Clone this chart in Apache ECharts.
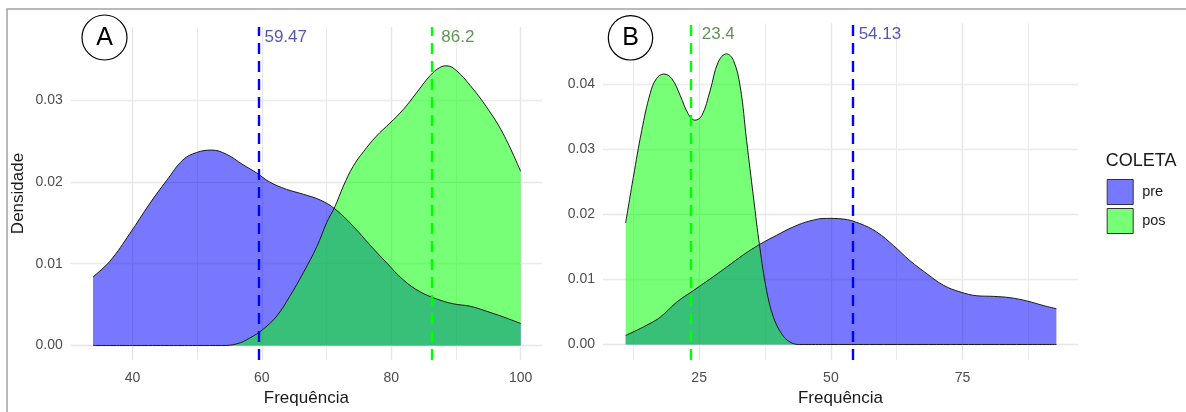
<!DOCTYPE html>
<html>
<head>
<meta charset="utf-8">
<script src="https://cdn.jsdelivr.net/npm/echarts@6/dist/echarts.min.js"></script>
<style>
  html, body { margin: 0; padding: 0; background: #ffffff; }
  #chart { width: 1186px; height: 412px; }
</style>
</head>
<body>
<div id="chart"></div>
<script>
// ---- Panel A: density of Frequência by COLETA ----
const preA_x = [33.9, 36.5, 39.6, 42.7, 45.3, 47.8, 49.9, 52.2, 54.5, 57.1, 59.2, 61.2, 63.8, 66.4, 69.0, 71.3, 74.1, 76.7, 79.3, 81.9, 84.4, 87.0, 89.6, 92.2, 94.7, 97.3, 100];
const preA_y = [0.0084, 0.0103, 0.0137, 0.0174, 0.0202, 0.0227, 0.0236, 0.0239, 0.0234, 0.0221, 0.0211, 0.0200, 0.0191, 0.0185, 0.0178, 0.0167, 0.0146, 0.0123, 0.0101, 0.0080, 0.0066, 0.0057, 0.0051, 0.0048, 0.0042, 0.0035, 0.0027];
const posA_x = [33.9, 40, 45, 50, 53.8, 56.1, 58.1, 60.2, 62.3, 64.3, 66.4, 68.5, 70.0, 71.3, 72.6, 74.1, 75.7, 77.7, 79.8, 81.9, 83.9, 86.0, 87.5, 88.6, 90.1, 92.2, 94.7, 97.3, 100];
const posA_y = [0, 0, 0, 0, 0, 0.0002, 0.0009, 0.0020, 0.0036, 0.0060, 0.0089, 0.0121, 0.0150, 0.0170, 0.0195, 0.0219, 0.0237, 0.0256, 0.0272, 0.0289, 0.0309, 0.0330, 0.0340, 0.0342, 0.0336, 0.0318, 0.0292, 0.0259, 0.0213];
const meanA_pre = 59.47;
const meanA_pos = 86.2;

// ---- Panel B ----
const preB_x = [11.05, 14.4, 17.6, 20.7, 23.9, 27.1, 30.2, 33.4, 36.5, 39.7, 42.9, 46.0, 49.2, 52.3, 55.5, 58.7, 61.9, 65.0, 68.2, 71.4, 74.5, 77.7, 80.9, 84.0, 87.2, 90.3, 92.8];
const preB_y = [0.0014, 0.0027, 0.0042, 0.0065, 0.0083, 0.0101, 0.0119, 0.0138, 0.0154, 0.0168, 0.0181, 0.0190, 0.0194, 0.0193, 0.0186, 0.0173, 0.0152, 0.0129, 0.0109, 0.0091, 0.0081, 0.0075, 0.0074, 0.0072, 0.0067, 0.0060, 0.0055];
const posB_x = [11.05, 12.5, 14.1, 15.7, 16.9, 18.3, 19.8, 21.4, 22.9, 24.2, 25.5, 27.1, 28.6, 30.2, 31.5, 32.8, 34.0, 35.3, 36.5, 37.8, 39.1, 40.7, 42.2, 44.1, 50, 60, 70, 80, 92.8];
const posB_y = [0.0187, 0.0257, 0.0329, 0.0386, 0.0409, 0.0416, 0.0409, 0.0383, 0.0355, 0.0345, 0.0352, 0.0391, 0.0434, 0.0447, 0.0437, 0.0396, 0.0314, 0.0227, 0.0150, 0.0083, 0.0042, 0.0016, 0.0004, 0, 0, 0, 0, 0, 0];
const meanB_pre = 54.13;
const meanB_pos = 23.4;

// ---- Axis ticks (major carry labels, minor are grid only) ----
const xTicksA = [40, 60, 80, 100];
const xMinorA = [50, 70, 90];
const yTicksA = [0, 0.01, 0.02, 0.03];
const yMinorA = [0.005, 0.015, 0.025, 0.035];
const xTicksB = [25, 50, 75];
const xMinorB = [12.5, 37.5, 62.5, 87.5];
const yTicksB = [0, 0.01, 0.02, 0.03, 0.04];
const yMinorB = [0.005, 0.015, 0.025, 0.035, 0.045];

// label heights for the mean annotations
const meanLabelY_A = 0.0377;
const meanLabelY_B = 0.0477;

const FONT = '"Liberation Sans", Arial, sans-serif';
const PRE_FILL = 'rgba(0, 0, 255, 0.53)';
const POS_FILL = 'rgba(0, 255, 0, 0.53)';

const pairs = (xs, ys) => xs.map((x, i) => [x, ys[i]]);

function gridSeries(idx, xMaj, xMin, yMaj, yMin) {
  const line = (w, c) => ({ color: c, width: w, type: 'solid' });
  const data = [];
  xMaj.forEach(v => data.push({ xAxis: v, lineStyle: line(1.4, '#E6E6E6') }));
  xMin.forEach(v => data.push({ xAxis: v, lineStyle: line(1, '#EBEBEB') }));
  yMaj.forEach(v => data.push({ yAxis: v, lineStyle: line(1.4, '#E6E6E6') }));
  yMin.forEach(v => data.push({ yAxis: v, lineStyle: line(1, '#EBEBEB') }));
  return {
    type: 'line', name: 'grid' + idx, xAxisIndex: idx, yAxisIndex: idx,
    data: [], silent: true, z: 0,
    markLine: { silent: true, symbol: ['none', 'none'], z: 0, label: { show: false }, data: data, animation: false }
  };
}

function densitySeries(idx, name, xs, ys, fill) {
  return {
    type: 'line', name: name, xAxisIndex: idx, yAxisIndex: idx,
    data: pairs(xs, ys), smooth: 0.4, showSymbol: false, symbol: 'none',
    lineStyle: { color: '#1a1a1a', width: 1 },
    itemStyle: { color: fill },
    areaStyle: { color: fill, opacity: 1, origin: 'auto' },
    z: 2
  };
}

function meanLine(idx, value, color) {
  return {
    type: 'line', name: 'm' + idx + value, xAxisIndex: idx, yAxisIndex: idx,
    data: [], silent: true, z: 5,
    markLine: {
      silent: true, symbol: ['none', 'none'], z: 5, label: { show: false },
      lineStyle: { color: color, width: 2.4, type: [11, 7] },
      data: [{ xAxis: value }], animation: false
    }
  };
}

function meanLabel(idx, value, y, color, dist) {
  return {
    type: 'scatter', name: 'l' + idx + value, xAxisIndex: idx, yAxisIndex: idx,
    data: [[value, y]], symbolSize: 0.001, silent: true, z: 6,
    itemStyle: { color: 'rgba(0,0,0,0)' },
    label: {
      show: true, position: 'right', distance: dist,
      formatter: String(value), color: color, fontSize: 17, fontFamily: FONT
    }
  };
}

function xAxisCfg(idx, min, max, ticks) {
  return {
    type: 'value', gridIndex: idx, min: min, max: max,
    axisLine: { show: false, onZero: false }, axisTick: { show: false },
    splitLine: { show: false },
    axisLabel: { customValues: ticks, formatter: v => String(v), color: '#4D4D4D', fontSize: 14, fontFamily: FONT, margin: 11 },
    name: 'Frequência', nameLocation: 'middle', nameGap: 28,
    nameTextStyle: { color: '#1a1a1a', fontSize: 17, fontFamily: FONT }
  };
}

function yAxisCfg(idx, min, max, ticks, name) {
  return {
    type: 'value', gridIndex: idx, min: min, max: max,
    axisLine: { show: false }, axisTick: { show: false },
    splitLine: { show: false },
    axisLabel: { customValues: ticks, formatter: v => v.toFixed(2), color: '#4D4D4D', fontSize: 14, fontFamily: FONT, margin: 8 },
    name: name, nameLocation: 'middle', nameGap: 44, nameRotate: 90,
    nameTextStyle: { color: '#1a1a1a', fontSize: 17, fontFamily: FONT }
  };
}

const chart = echarts.init(document.getElementById('chart'), null, { renderer: 'canvas' });

chart.setOption({
  animation: false,
  backgroundColor: '#ffffff',
  grid: [
    { left: 70.7, top: 27, width: 471.3, height: 333 },
    { left: 603, top: 23.3, width: 475, height: 336.7 }
  ],
  xAxis: [
    xAxisCfg(0, 30.45, 103.3, xTicksA),
    xAxisCfg(1, 6.75, 96.9, xTicksB)
  ],
  yAxis: [
    yAxisCfg(0, -0.00177, 0.03895, yTicksA, 'Densidade'),
    yAxisCfg(1, -0.00238, 0.0494, yTicksB, '')
  ],
  legend: {
    left: 1106.7, top: 179, orient: 'vertical', padding: 0,
    itemWidth: 26, itemHeight: 25, itemGap: 3, icon: 'rect',
    textStyle: { color: '#1a1a1a', fontSize: 14.5, fontFamily: FONT, padding: [0, 0, 0, 4] },
    data: [
      { name: 'pre', itemStyle: { color: '#7777FF', borderColor: '#333333', borderWidth: 1 } },
      { name: 'pos', itemStyle: { color: '#77FF77', borderColor: '#333333', borderWidth: 1 } }
    ]
  },
  graphic: [
    { type: 'rect', shape: { x: 7, y: 9, width: 1400, height: 600 }, style: { fill: 'none', stroke: '#A3A3A3', lineWidth: 1.5 }, silent: true },
    { type: 'circle', shape: { cx: 104.5, cy: 37.5, r: 22.5 }, style: { fill: '#ffffff', stroke: '#000000', lineWidth: 1.2 }, z: 10 },
    { type: 'text', x: 104.5, y: 38, style: { text: 'A', fill: '#000000', font: '25px ' + FONT, align: 'center', verticalAlign: 'middle' }, z: 11 },
    { type: 'circle', shape: { cx: 630.5, cy: 37.8, r: 22.2 }, style: { fill: '#ffffff', stroke: '#000000', lineWidth: 1.2 }, z: 10 },
    { type: 'text', x: 630.5, y: 38.3, style: { text: 'B', fill: '#000000', font: '25px ' + FONT, align: 'center', verticalAlign: 'middle' }, z: 11 },
    { type: 'text', x: 1105.7, y: 161, style: { text: 'COLETA', fill: '#1a1a1a', font: '18px ' + FONT, align: 'left', verticalAlign: 'middle' }, z: 11 }
  ],
  series: [
    gridSeries(0, xTicksA, xMinorA, yTicksA, yMinorA),
    gridSeries(1, xTicksB, xMinorB, yTicksB, yMinorB),
    densitySeries(0, 'pre', preA_x, preA_y, PRE_FILL),
    densitySeries(0, 'pos', posA_x, posA_y, POS_FILL),
    densitySeries(1, 'pre', preB_x, preB_y, PRE_FILL),
    densitySeries(1, 'pos', posB_x, posB_y, POS_FILL),
    meanLine(0, meanA_pre, '#0000FF'),
    meanLine(0, meanA_pos, '#00FF00'),
    meanLine(1, meanB_pre, '#0000FF'),
    meanLine(1, meanB_pos, '#00FF00'),
    meanLabel(0, meanA_pre, meanLabelY_A, '#2B2BA0', 6),
    meanLabel(0, meanA_pos, meanLabelY_A, '#357A2A', 10),
    meanLabel(1, meanB_pre, meanLabelY_B, '#2B2BA0', 6),
    meanLabel(1, meanB_pos, meanLabelY_B, '#357A2A', 11)
  ]
});
</script>
</body>
</html>
